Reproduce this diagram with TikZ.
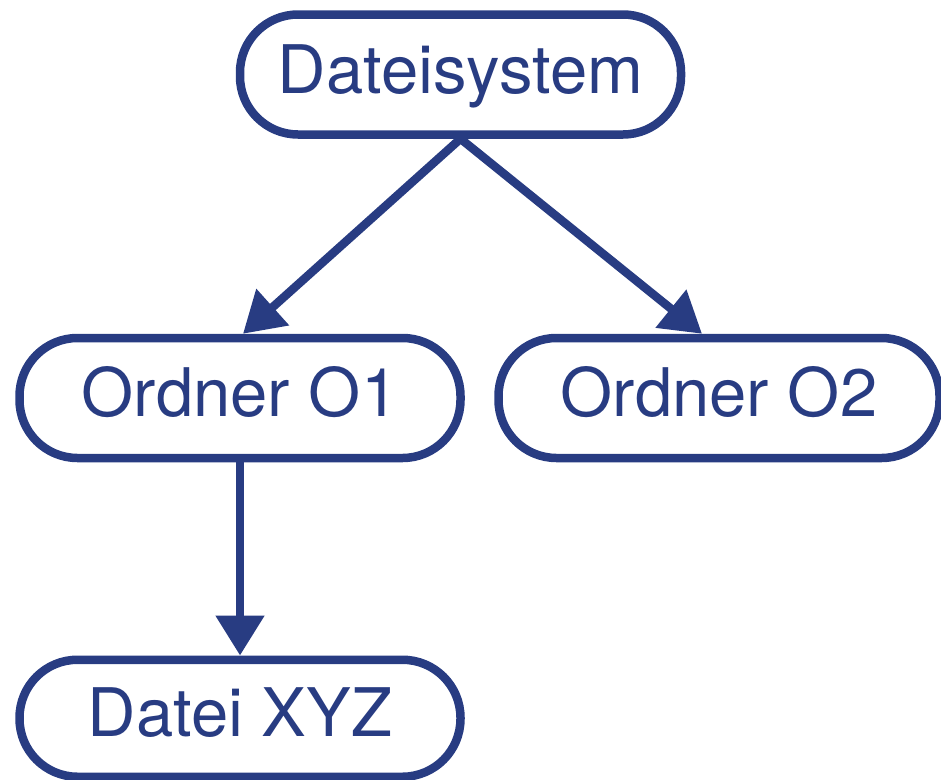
\documentclass[tikz,border=0pt]{standalone}
\usepackage{fontspec}
\setmainfont{TeX Gyre Heros}
\usetikzlibrary{arrows.meta,calc}
\definecolor{navy}{RGB}{40,60,130}
\begin{document}
\begin{tikzpicture}[x=1pt,y=-1pt,
  box/.style={draw=navy, line width=8.5pt, rounded corners=58pt,
    minimum width=441pt, minimum height=120pt, inner sep=0pt,
    text=navy, font=\fontsize{67}{80}\selectfont,
    text height=46pt, text depth=9pt},
  link/.style={draw=navy, line width=8.5pt,
    -{Triangle[length=40pt,width=47pt]}}]
\useasboundingbox (0,0) rectangle (941,779);
\node[box] (ds) at (460.5,74.5) {Dateisystem};
\node[box] (o1) at (240,398) {Ordner O1};
\node[box] (o2) at (719,398) {Ordner O2};
\node[box, minimum height=117pt] (dx) at (240,718.25) {Datei XYZ};
\draw[link] (ds.south) -- ([xshift=3pt]o1.north);
\draw[link] (ds.south) -- ([xshift=-17pt]o2.north);
\draw[link] (o1.south) -- (dx.north);
\end{tikzpicture}
\end{document}
